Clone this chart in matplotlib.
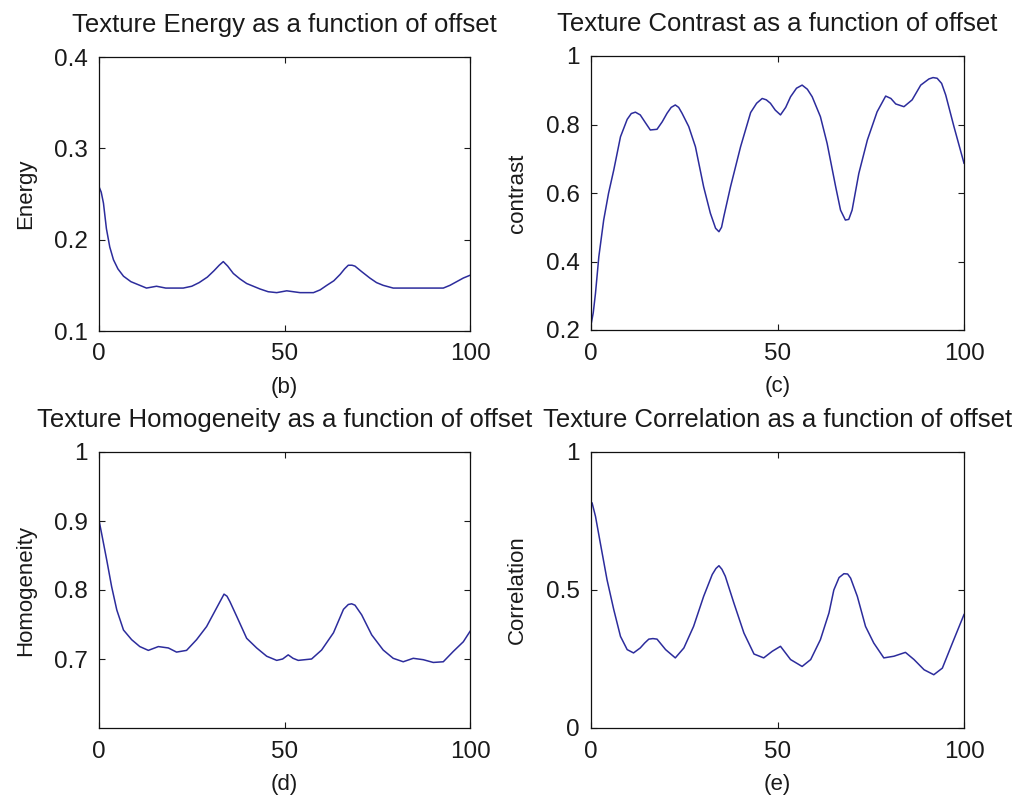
import matplotlib
matplotlib.use("Agg")
import matplotlib.pyplot as plt

# ---------------- data ----------------
energy_x = [0, 0.6, 1.2, 2, 2.9, 3.9, 5.1, 6.6, 8.6, 11, 12.8, 15.5, 18, 22.7, 25, 27, 29.2,
            31, 32.4, 33.5, 34.7, 36.2, 38, 39.8, 41.6, 43.4, 45.6, 47.9, 50.6, 54.2, 57.8,
            59.6, 61.4, 63.3, 65, 66.2, 67.2, 68.2, 69, 70.8, 73, 74.8, 76.6, 79.3, 85.6,
            92.8, 94.6, 96.4, 98.2, 100]
energy_y = [0.258, 0.252, 0.240, 0.212, 0.192, 0.178, 0.168, 0.160, 0.154, 0.150, 0.147,
            0.149, 0.147, 0.147, 0.149, 0.153, 0.159, 0.166, 0.172, 0.176, 0.171, 0.163,
            0.157, 0.152, 0.149, 0.146, 0.143, 0.142, 0.144, 0.142, 0.142, 0.145, 0.150,
            0.155, 0.162, 0.168, 0.172, 0.172, 0.171, 0.165, 0.158, 0.153, 0.150, 0.147,
            0.147, 0.147, 0.150, 0.154, 0.158, 0.161]

contrast_x = [0, 0.6, 1.2, 2.1, 3.4, 4.7, 6.1, 7.9, 9.7, 10.8, 11.9, 13.2, 14.6, 15.9, 17.7,
              19.1, 20.4, 21.5, 22.6, 23.5, 24.4, 26.2, 28, 30.2, 32, 33.4, 34.3, 35.0, 35.6,
              37.4, 40.1, 42.8, 44.4, 45.9, 47.0, 48.1, 49.4, 50.8, 52.2, 53.5, 55.1, 56.6,
              58.0, 59.3, 61.5, 63.3, 65.6, 66.9, 68.2, 69.1, 70, 71.8, 74.1, 76.7, 79,
              80.4, 81.7, 83.9, 86.1, 88.4, 90.6, 91.7, 92.8, 94.0, 95.1, 97.3, 100]
contrast_y = [0.215, 0.250, 0.307, 0.414, 0.521, 0.599, 0.667, 0.764, 0.815, 0.832, 0.836,
              0.828, 0.805, 0.784, 0.786, 0.808, 0.833, 0.850, 0.857, 0.850, 0.833, 0.794,
              0.735, 0.618, 0.541, 0.497, 0.487, 0.500, 0.531, 0.618, 0.735, 0.835, 0.862,
              0.876, 0.872, 0.862, 0.842, 0.828, 0.850, 0.881, 0.906, 0.915, 0.903, 0.881,
              0.823, 0.745, 0.618, 0.550, 0.521, 0.523, 0.550, 0.657, 0.755, 0.837, 0.883,
              0.876, 0.860, 0.852, 0.872, 0.915, 0.933, 0.937, 0.935, 0.920, 0.886, 0.794,
              0.687]

homog_x = [0, 0.7, 2.1, 3.4, 4.8, 6.6, 8.8, 11, 13.3, 16, 18.7, 20.9, 23.6, 26.3, 29, 31.7,
           33.0, 33.7, 34.5, 35.3, 37.1, 39.8, 42.5, 45.2, 47.9, 49.5, 51, 52.3, 53.7, 57.3,
           60, 63.2, 65.9, 67.2, 68.1, 69, 70.8, 73.5, 76.6, 79.3, 82, 84.7, 87.4, 90.1,
           92.8, 95.5, 98.2, 100]
homog_y = [0.901, 0.882, 0.843, 0.805, 0.771, 0.742, 0.728, 0.718, 0.7125, 0.718, 0.716,
           0.710, 0.7125, 0.728, 0.747, 0.774, 0.787, 0.794, 0.791, 0.783, 0.762, 0.730,
           0.716, 0.704, 0.698, 0.700, 0.706, 0.701, 0.698, 0.700, 0.713, 0.738, 0.772,
           0.779, 0.780, 0.778, 0.764, 0.735, 0.713, 0.701, 0.696, 0.701, 0.699, 0.695,
           0.696, 0.711, 0.725, 0.740]

corr_x = [0.3, 1.2, 2.5, 4.3, 6.1, 7.9, 9.7, 11.4, 13.2, 14.4, 15.5, 16.6, 17.7, 20, 22.6,
          24.9, 27.5, 30.2, 32.5, 33.5, 34.3, 35.1, 36, 38.3, 41, 43.7, 46.3, 48.6, 50.8,
          53.5, 56.6, 58.9, 61.5, 63.8, 65.1, 66.5, 67.8, 68.8, 69.6, 71.4, 73.6, 75.8,
          78.5, 81.2, 84.3, 86.6, 89.3, 91.9, 94.2, 96.9, 100]
corr_y = [0.815, 0.767, 0.670, 0.537, 0.429, 0.332, 0.284, 0.272, 0.290, 0.308, 0.322,
          0.324, 0.322, 0.284, 0.254, 0.290, 0.368, 0.477, 0.556, 0.578, 0.588, 0.575,
          0.550, 0.453, 0.344, 0.268, 0.254, 0.278, 0.296, 0.248, 0.223, 0.248, 0.320,
          0.417, 0.500, 0.545, 0.559, 0.558, 0.543, 0.477, 0.368, 0.308, 0.254, 0.260,
          0.274, 0.248, 0.211, 0.193, 0.217, 0.308, 0.411]

titles = ["Texture Energy as a function of offset",
          "Texture Contrast as a function of offset",
          "Texture Homogeneity as a function of offset",
          "Texture Correlation as a function of offset"]
ylabels = ["Energy", "contrast", "Homogeneity", "Correlation"]
xlabels = ["(b)", "(c)", "(d)", "(e)"]
xticks = [0, 50, 100]
xticklabels = ["0", "50", "100"]
yticks_list = [[0.1, 0.2, 0.3, 0.4], [0.2, 0.4, 0.6, 0.8, 1.0], [0.7, 0.8, 0.9, 1.0], [0, 0.5, 1.0]]
yticklabels_list = [["0.1", "0.2", "0.3", "0.4"], ["0.2", "0.4", "0.6", "0.8", "1"],
                    ["0.7", "0.8", "0.9", "1"], ["0", "0.5", "1"]]
ylims = [(0.1, 0.4), (0.2, 1.0), (0.6, 1.0), (0.0, 1.0)]

# ---------------- figure ----------------
plt.rcParams['font.family'] = ['Liberation Sans', 'DejaVu Sans']
fig = plt.figure(figsize=(10.17, 8.01), dpi=100)
W, H = 1017, 801
boxes = [(99, 57, 470, 331), (591, 56, 964, 330), (99, 452, 470, 728), (591, 452, 964, 728)]
series = [(energy_x, energy_y), (contrast_x, contrast_y), (homog_x, homog_y), (corr_x, corr_y)]
line_color = '#2c2c9c'
text_color = '#1a1a1a'

for i, (l, t, r, b) in enumerate(boxes):
    ax = fig.add_axes([l / W, 1 - b / H, (r - l) / W, (b - t) / H])
    xs, ys = series[i]
    ax.plot(xs, ys, color=line_color, lw=1.1)
    ax.set_xlim(0, 100)
    ax.set_ylim(*ylims[i])
    ax.set_xticks(xticks)
    ax.set_xticklabels(xticklabels)
    ax.set_yticks(yticks_list[i])
    ax.set_yticklabels(yticklabels_list[i])
    ax.tick_params(direction='in', length=4, width=0.8, top=True, right=True,
                   labelsize=17.5, colors=text_color, pad=8)
    ax.tick_params(axis='x', pad=9)
    for s in ax.spines.values():
        s.set_linewidth(0.9)
        s.set_color('#111111')
    ax.set_title(titles[i], fontsize=18.5, color=text_color, pad=18)
    ax.set_ylabel(ylabels[i], fontsize=16, color=text_color, labelpad=13)
    ax.set_xlabel(xlabels[i], fontsize=16, color=text_color, labelpad=8)

fig.savefig("out.png", dpi=100)
